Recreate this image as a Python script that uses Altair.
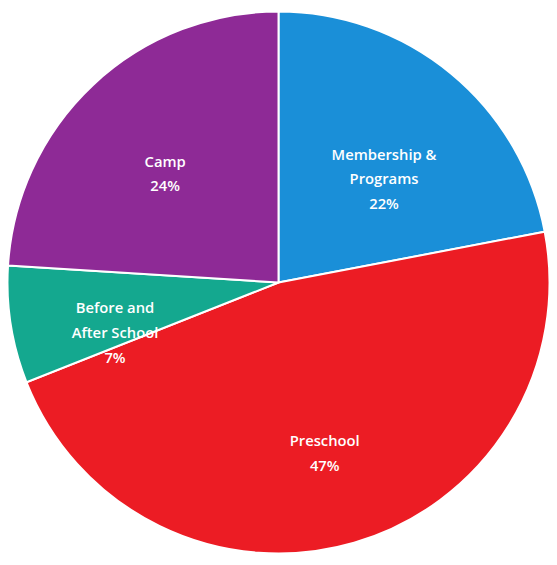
import altair as alt
import pandas as pd

categories = ["Membership &\nPrograms", "Preschool", "Before and\nAfter School", "Camp"]
shares = [22, 47, 7, 24]
colors = ["#1a8fd8", "#ec1c24", "#14a88f", "#8e2a96"]

df = pd.DataFrame({
    "category": categories,
    "share": shares,
    "order": list(range(len(categories))),
})
df["label"] = [f"{c}\n{v}%" for c, v in zip(categories, shares)]

base = alt.Chart(df).encode(
    theta=alt.Theta("share:Q", stack=True),
    order=alt.Order("order:Q"),
)

pie = base.mark_arc(outerRadius=275, stroke="white", strokeWidth=2).encode(
    color=alt.Color("category:N", scale=alt.Scale(domain=categories, range=colors), legend=None),
)

labels = base.mark_text(
    radius=168, color="white", font="Open Sans", fontSize=15, fontWeight=600,
    lineBreak="\n", lineHeight=25, align="center", baseline="middle",
).encode(text="label:N")

chart = (pie + labels).properties(
    width=549, height=549, padding=0,
    autosize=alt.AutoSizeParams(type="none"),
).configure_view(stroke=None)

chart.save("out.html", embed_options={"renderer": "svg", "actions": False})
